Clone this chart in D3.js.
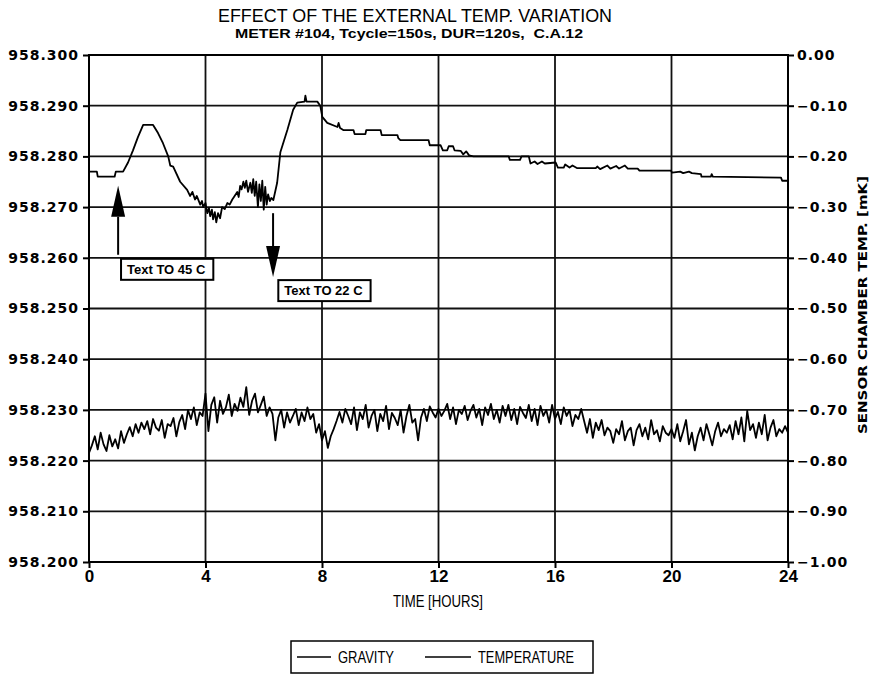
<!DOCTYPE html>
<html>
<head>
<meta charset="utf-8">
<script src="https://cdn.jsdelivr.net/npm/d3@7"></script>
<style>
  body { margin: 0; background: #fff; }
  svg { display: block; }
</style>
</head>
<body>
<div id="chart"></div>
<script>
const width = 877
const height = 675

// tick labels
const hourTicks = [0, 4, 8, 12, 16, 20, 24]
const gravTicks = [958.200, 958.210, 958.220, 958.230, 958.240, 958.250, 958.260, 958.270, 958.280, 958.290, 958.300]
const tempTicks = [-1.00, -0.90, -0.80, -0.70, -0.60, -0.50, -0.40, -0.30, -0.20, -0.10, 0.00]

// gravity (left axis): time in hours, value
const gravHours = [0.00, 0.27, 0.30, 0.88, 0.92, 1.17, 1.34, 1.51, 1.68, 1.86, 2.20, 2.37, 2.54, 2.72, 2.79, 2.89,
  3.13, 3.37, 3.47, 3.55, 3.64, 3.70, 3.82, 3.88, 3.92, 4.00, 4.06, 4.12, 4.16, 4.22, 4.26, 4.32, 4.37, 4.43, 4.50,
  4.57, 4.66, 4.75, 4.83, 4.92, 5.00, 5.09, 5.14, 5.19, 5.24, 5.30, 5.35, 5.40, 5.46, 5.54, 5.59, 5.64, 5.69, 5.74,
  5.80, 5.85, 5.90, 5.95, 6.00, 6.05, 6.10, 6.15, 6.21, 6.26, 6.33, 6.46, 6.57, 6.81, 7.01, 7.15, 7.40, 7.43, 7.47,
  7.84, 7.94, 8.01, 8.18, 8.53, 8.57, 8.62, 8.73, 9.08, 9.12, 9.49, 9.52, 10.01, 10.05, 10.59, 10.62, 10.69, 11.66,
  11.70, 12.07, 12.15, 12.30, 12.35, 12.50, 12.55, 12.76, 12.85, 12.95, 13.05, 13.20, 14.41, 14.45, 14.80, 14.85,
  15.10, 15.16, 15.30, 15.40, 15.55, 15.65, 16.02, 16.10, 16.30, 16.35, 16.50, 16.60, 16.75, 17.40, 17.45, 17.55,
  17.80, 17.90, 18.10, 18.20, 18.40, 18.50, 18.84, 18.90, 19.98, 20.02, 20.30, 20.40, 20.60, 20.70, 21.01, 21.03,
  21.35, 21.38, 21.42, 23.76, 23.80, 24.00]
const gravValues = [958.2770, 958.2770, 958.2760, 958.2760, 958.2770, 958.2770, 958.2788, 958.2812, 958.2838, 958.2862,
  958.2862, 958.2846, 958.2826, 958.2800, 958.2782, 958.2780, 958.2750, 958.2734, 958.2722, 958.2730, 958.2715,
  958.2722, 958.2705, 958.2712, 958.2700, 958.2708, 958.2688, 958.2698, 958.2682, 958.2695, 958.2676, 958.2690,
  958.2670, 958.2688, 958.2678, 958.2700, 958.2696, 958.2708, 958.2705, 958.2715, 958.2722, 958.2730, 958.2720,
  958.2742, 958.2735, 958.2750, 958.2738, 958.2752, 958.2730, 958.2748, 958.2728, 958.2755, 958.2722, 958.2750,
  958.2700, 958.2745, 958.2712, 958.2752, 958.2695, 958.2740, 958.2705, 958.2725, 958.2712, 958.2718, 958.2714,
  958.2748, 958.2808, 958.2852, 958.2892, 958.2906, 958.2908, 958.2920, 958.2908, 958.2908, 958.2900, 958.2878,
  958.2866, 958.2858, 958.2866, 958.2856, 958.2852, 958.2852, 958.2844, 958.2844, 958.2852, 958.2852, 958.2842,
  958.2842, 958.2836, 958.2832, 958.2832, 958.2822, 958.2822, 958.2812, 958.2812, 958.2820, 958.2820, 958.2812,
  958.2811, 958.2804, 958.2810, 958.2802, 958.2800, 958.2800, 958.2793, 958.2793, 958.2800, 958.2800, 958.2786,
  958.2790, 958.2785, 958.2790, 958.2786, 958.2788, 958.2778, 958.2778, 958.2784, 958.2778, 958.2782, 958.2777,
  958.2777, 958.2780, 958.2775, 958.2782, 958.2776, 958.2781, 958.2776, 958.2782, 958.2776, 958.2776, 958.2772,
  958.2772, 958.2768, 958.2770, 958.2767, 958.2770, 958.2767, 958.2765, 958.2760, 958.2760, 958.2765, 958.2760,
  958.2758, 958.2752, 958.2752]

// sensor chamber temperature (right axis) in mK, one row per hour, 0.1 h apart
const tempRows = [
  [-0.785, -0.770, -0.752, -0.778, -0.745, -0.768, -0.781, -0.750, -0.772, -0.758],
  [-0.776, -0.742, -0.765, -0.748, -0.734, -0.752, -0.728, -0.745, -0.725, -0.738],
  [-0.722, -0.748, -0.718, -0.735, -0.741, -0.720, -0.755, -0.728, -0.732, -0.716],
  [-0.752, -0.724, -0.710, -0.738, -0.700, -0.718, -0.695, -0.730, -0.705, -0.712],
  [-0.668, -0.742, -0.690, -0.675, -0.725, -0.682, -0.708, -0.695, -0.670, -0.712],
  [-0.688, -0.702, -0.676, -0.694, -0.655, -0.710, -0.682, -0.668, -0.705, -0.690],
  [-0.674, -0.712, -0.695, -0.708, -0.760, -0.715, -0.700, -0.735, -0.705, -0.725],
  [-0.712, -0.698, -0.730, -0.705, -0.722, -0.695, -0.718, -0.708, -0.745, -0.728],
  [-0.760, -0.742, -0.775, -0.752, -0.738, -0.722, -0.704, -0.725, -0.698, -0.712],
  [-0.728, -0.695, -0.740, -0.705, -0.718, -0.690, -0.735, -0.712, -0.700, -0.742],
  [-0.708, -0.722, -0.692, -0.738, -0.706, -0.716, -0.730, -0.700, -0.745, -0.712],
  [-0.690, -0.725, -0.718, -0.760, -0.715, -0.698, -0.722, -0.693, -0.705, -0.715],
  [-0.698, -0.712, -0.702, -0.688, -0.718, -0.695, -0.728, -0.700, -0.708, -0.692],
  [-0.720, -0.702, -0.690, -0.715, -0.698, -0.730, -0.695, -0.710, -0.688, -0.718],
  [-0.700, -0.725, -0.692, -0.712, -0.690, -0.720, -0.698, -0.728, -0.694, -0.706],
  [-0.716, -0.690, -0.722, -0.698, -0.730, -0.692, -0.712, -0.700, -0.725, -0.690],
  [-0.718, -0.704, -0.728, -0.695, -0.712, -0.700, -0.732, -0.710, -0.718, -0.698],
  [-0.722, -0.745, -0.718, -0.755, -0.725, -0.740, -0.720, -0.750, -0.735, -0.742],
  [-0.765, -0.738, -0.748, -0.722, -0.760, -0.742, -0.735, -0.770, -0.740, -0.728],
  [-0.752, -0.735, -0.758, -0.720, -0.748, -0.740, -0.762, -0.732, -0.745, -0.750],
  [-0.738, -0.755, -0.728, -0.762, -0.742, -0.720, -0.768, -0.745, -0.780, -0.752],
  [-0.735, -0.760, -0.728, -0.748, -0.770, -0.742, -0.725, -0.752, -0.738, -0.745],
  [-0.730, -0.758, -0.722, -0.748, -0.715, -0.762, -0.702, -0.740, -0.728, -0.755],
  [-0.725, -0.748, -0.710, -0.760, -0.735, -0.720, -0.752, -0.738, -0.745, -0.732],
  [-0.745]
]

// annotations: arrow at an hour, from / to a gravity value, plus a text box
const notes = [
  { hour: 1.0, from: 958.2606, to: 958.2742, label: "Text TO 45 C", boxHour: 1.1, boxTop: 958.2598 },
  { hour: 6.32, from: 958.2688, to: 958.2562, label: "Text TO 22 C", boxHour: 6.5, boxTop: 958.2556 }
]

const svg = d3.select("#chart")
    .append("svg")
    .attr("width", width)
    .attr("height", height)
    .style("background-color", "#fff");

const x = d3.scaleLinear().domain([0, 24]).range([89, 788])
const yG = d3.scaleLinear().domain([958.2, 958.3]).range([562, 55])
const yT = d3.scaleLinear().domain([-1, 0]).range([562, 55])

const labelFont = "'DejaVu Sans', sans-serif"
const narrowFont = "'Liberation Sans Narrow', 'Liberation Sans', sans-serif"

// grid
svg.append("g")
    .selectAll("line")
    .data(gravTicks.slice(1, -1))
    .enter()
    .append("line")
    .attr("x1", x(0)).attr("x2", x(24))
    .attr("y1", d => yG(d)).attr("y2", d => yG(d))
    .attr("stroke", "#111").attr("stroke-width", 1.8);

svg.append("g")
    .selectAll("line")
    .data(hourTicks.slice(1, -1))
    .enter()
    .append("line")
    .attr("y1", yG(958.2)).attr("y2", yG(958.3))
    .attr("x1", d => x(d)).attr("x2", d => x(d))
    .attr("stroke", "#111").attr("stroke-width", 1.8);

// frame
svg.append("rect")
    .attr("x", x(0)).attr("y", yG(958.3))
    .attr("width", x(24) - x(0)).attr("height", yG(958.2) - yG(958.3))
    .attr("fill", "none").attr("stroke", "#000").attr("stroke-width", 2);

// axes
const leftAxis = svg.append("g")
    .attr("transform", `translate(${x(0)},0)`)
    .call(d3.axisLeft(yG).tickValues(gravTicks).tickFormat(d3.format(".3f")).tickSize(6).tickSizeOuter(0).tickPadding(4));
const rightAxis = svg.append("g")
    .attr("transform", `translate(${x(24)},0)`)
    .call(d3.axisRight(yT).tickValues(tempTicks).tickFormat(d3.format(".2f")).tickSize(6).tickSizeOuter(0).tickPadding(3));
const bottomAxis = svg.append("g")
    .attr("transform", `translate(0,${yG(958.2)})`)
    .call(d3.axisBottom(x).tickValues(hourTicks).tickSize(6).tickSizeOuter(0).tickPadding(2));

[leftAxis, rightAxis, bottomAxis].forEach(g => {
  g.select(".domain").remove()
  g.selectAll(".tick line").attr("stroke", "#000").attr("stroke-width", 2)
})
leftAxis.selectAll("text")
    .attr("font-family", labelFont).attr("font-weight", "bold")
    .attr("font-size", 14).attr("letter-spacing", 1).attr("fill", "#000");
rightAxis.selectAll("text")
    .attr("font-family", labelFont).attr("font-weight", "bold")
    .attr("font-size", 14).attr("letter-spacing", 1).attr("fill", "#000");
bottomAxis.selectAll("text")
    .attr("font-family", narrowFont).attr("font-weight", "bold")
    .attr("font-size", 17).attr("fill", "#000");

// data lines
const gravData = gravHours.map((h, i) => [h, gravValues[i]])
const tempData = []
tempRows.forEach((row, hr) => row.forEach((v, i) => tempData.push([hr + i / 10, v])))

svg.append("path")
    .datum(gravData)
    .attr("d", d3.line().x(d => x(d[0])).y(d => yG(d[1])))
    .attr("fill", "none").attr("stroke", "#000").attr("stroke-width", 1.8)
    .attr("stroke-linejoin", "round");

svg.append("path")
    .datum(tempData)
    .attr("d", d3.line().x(d => x(d[0])).y(d => yT(d[1])))
    .attr("fill", "none").attr("stroke", "#000").attr("stroke-width", 1.8)
    .attr("stroke-linejoin", "round");

// arrows and boxes
notes.forEach(n => {
  const up = n.to > n.from
  const xa = x(n.hour)
  const yTip = yG(n.to)
  const yBase = yTip + (up ? 31 : -31)
  svg.append("line")
      .attr("x1", xa).attr("x2", xa)
      .attr("y1", yG(n.from)).attr("y2", yBase)
      .attr("stroke", "#000").attr("stroke-width", 2);
  svg.append("path")
      .attr("d", `M${xa},${yTip} L${xa - 7},${yBase} L${xa + 7},${yBase} Z`)
      .attr("fill", "#000");
  const bx = x(n.boxHour)
  const by = yG(n.boxTop)
  const g = svg.append("g")
  const box = g.append("rect")
      .attr("x", bx).attr("y", by)
      .attr("height", 21)
      .attr("fill", "#fff").attr("stroke", "#000").attr("stroke-width", 2);
  const t = g.append("text")
      .attr("x", bx + 6).attr("y", by + 15)
      .attr("font-family", narrowFont).attr("font-weight", "bold")
      .attr("font-size", 13).attr("fill", "#000")
      .text(n.label);
  box.attr("width", t.node().getComputedTextLength() + 14)
})

// titles
svg.append("text")
    .attr("x", 415).attr("y", 22)
    .attr("text-anchor", "middle")
    .attr("font-family", narrowFont).attr("font-size", 19)
    .attr("textLength", 394).attr("lengthAdjust", "spacingAndGlyphs")
    .text("EFFECT OF THE EXTERNAL TEMP. VARIATION");
svg.append("text")
    .attr("x", 409).attr("y", 38)
    .attr("text-anchor", "middle")
    .attr("font-family", narrowFont).attr("font-weight", "bold").attr("font-size", 13)
    .attr("textLength", 348).attr("lengthAdjust", "spacingAndGlyphs")
    .style("white-space", "pre")
    .text("METER #104, Tcycle=150s, DUR=120s,  C.A.12");
svg.append("text")
    .attr("x", 438).attr("y", 607)
    .attr("text-anchor", "middle")
    .attr("font-family", narrowFont).attr("font-size", 16)
    .attr("textLength", 90).attr("lengthAdjust", "spacingAndGlyphs")
    .text("TIME [HOURS]");
svg.append("text")
    .attr("transform", "translate(867,305) rotate(-90)")
    .attr("text-anchor", "middle")
    .attr("font-family", labelFont).attr("font-weight", "bold").attr("font-size", 13)
    .attr("textLength", 258).attr("lengthAdjust", "spacingAndGlyphs")
    .text("SENSOR CHAMBER TEMP. [mK]");

// legend
const legend = svg.append("g")
legend.append("rect")
    .attr("x", 291).attr("y", 641).attr("width", 302).attr("height", 32)
    .attr("fill", "none").attr("stroke", "#000").attr("stroke-width", 1.5);
const legendItems = [
  { name: "GRAVITY", x0: 297, x1: 331, w: 56 },
  { name: "TEMPERATURE", x0: 425, x1: 471, w: 96 }
]
legendItems.forEach(d => {
  legend.append("line")
      .attr("x1", d.x0).attr("x2", d.x1).attr("y1", 657).attr("y2", 657)
      .attr("stroke", "#000").attr("stroke-width", 1.5);
  legend.append("text")
      .attr("x", d.x1 + 7).attr("y", 663)
      .attr("font-family", narrowFont).attr("font-size", 16)
      .attr("textLength", d.w).attr("lengthAdjust", "spacingAndGlyphs")
      .text(d.name);
})
</script>
</body>
</html>
